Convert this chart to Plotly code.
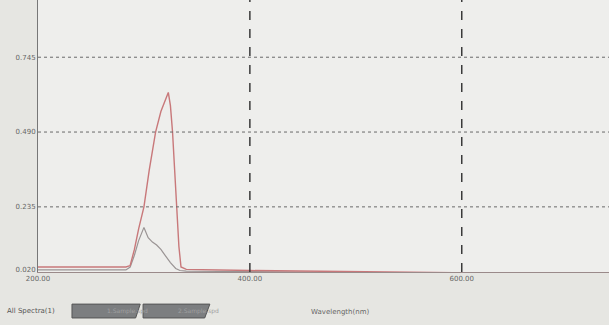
import plotly.graph_objects as go

# Data
wl_red = [200, 250, 283, 287, 291, 295, 300, 305, 311, 316, 320, 323, 325, 327, 329, 331, 333, 335, 340, 400, 500, 600, 739]
abs_red = [0.030, 0.030, 0.030, 0.035, 0.09, 0.16, 0.235, 0.36, 0.49, 0.56, 0.60, 0.625, 0.58, 0.49, 0.36, 0.235, 0.10, 0.03, 0.022, 0.018, 0.014, 0.010, 0.005]
wl_grey = [200, 250, 283, 287, 291, 295, 300, 304, 308, 312, 316, 320, 325, 330, 334, 340, 400, 500, 600, 739]
abs_grey = [0.020, 0.020, 0.020, 0.030, 0.07, 0.12, 0.165, 0.13, 0.115, 0.105, 0.09, 0.07, 0.045, 0.025, 0.018, 0.016, 0.014, 0.011, 0.008, 0.004]
y_ticks = [0.020, 0.235, 0.490, 0.745]
x_ticks = [200, 400, 600]

fig = go.Figure()
fig.add_trace(go.Scatter(x=wl_grey, y=abs_grey, mode="lines",
                         line=dict(color="#9a9494", width=1.2), showlegend=False))
fig.add_trace(go.Scatter(x=wl_red, y=abs_red, mode="lines",
                         line=dict(color="#c8787a", width=1.4), showlegend=False))

# horizontal dotted grid lines
for v in y_ticks[1:]:
    fig.add_shape(type="line", xref="paper", x0=0, x1=1, yref="y", y0=v, y1=v,
                  line=dict(color="#6a6a6a", width=1, dash="dot"))
# vertical dashed grid lines
for v in x_ticks[1:]:
    fig.add_shape(type="line", xref="x", x0=v, x1=v, yref="paper", y0=0, y1=1,
                  line=dict(color="#3a3a3a", width=1.5, dash="dash"))

# bottom tabs
fig.add_shape(type="path", xref="paper", yref="paper",
              path="M 0.0595 -0.118 L 0.179 -0.118 L 0.171 -0.169 L 0.0595 -0.169 Z",
              line=dict(color="#555", width=1), fillcolor="#7c7e80")
fig.add_shape(type="path", xref="paper", yref="paper",
              path="M 0.184 -0.118 L 0.301 -0.118 L 0.292 -0.169 L 0.184 -0.169 Z",
              line=dict(color="#555", width=1), fillcolor="#7c7e80")
fig.add_annotation(text="All Spectra(1)", xref="paper", yref="paper", x=-0.058, y=-0.143,
                   xanchor="left", yanchor="middle", showarrow=False,
                   font=dict(size=7, color="#555"))
fig.add_annotation(text="1.Sample.spd", xref="paper", yref="paper", x=0.117, y=-0.143,
                   yanchor="middle", showarrow=False, font=dict(size=6, color="#a0a0a0"))
fig.add_annotation(text="2.Sample.spd", xref="paper", yref="paper", x=0.241, y=-0.143,
                   yanchor="middle", showarrow=False, font=dict(size=6, color="#a0a0a0"))
fig.add_annotation(text="Wavelength(nm)", xref="paper", yref="paper", x=0.529, y=-0.147,
                   yanchor="middle", showarrow=False, font=dict(size=7, color="#666"))

fig.update_layout(
    width=609, height=325,
    margin=dict(l=38, r=0, t=0, b=53),
    paper_bgcolor="#e6e6e2",
    plot_bgcolor="#eeeeec",
    font=dict(family="DejaVu Sans", size=7, color="#666"),
    xaxis=dict(range=[200, 739], tickvals=x_ticks, ticktext=["200.00", "400.00", "600.00"],
               showgrid=False, zeroline=False, showline=True, linecolor="#9a8a8a", linewidth=1,
               ticks="", automargin=False),
    yaxis=dict(range=[0.013, 0.94], tickvals=y_ticks, ticktext=["0.020", "0.235", "0.490", "0.745"],
               showgrid=False, zeroline=False, showline=True, linecolor="#777", linewidth=1,
               ticks="", automargin=False),
)

fig.write_html("out.html", config={"displayModeBar": False},
               post_script="document.body.style.margin='0';")
